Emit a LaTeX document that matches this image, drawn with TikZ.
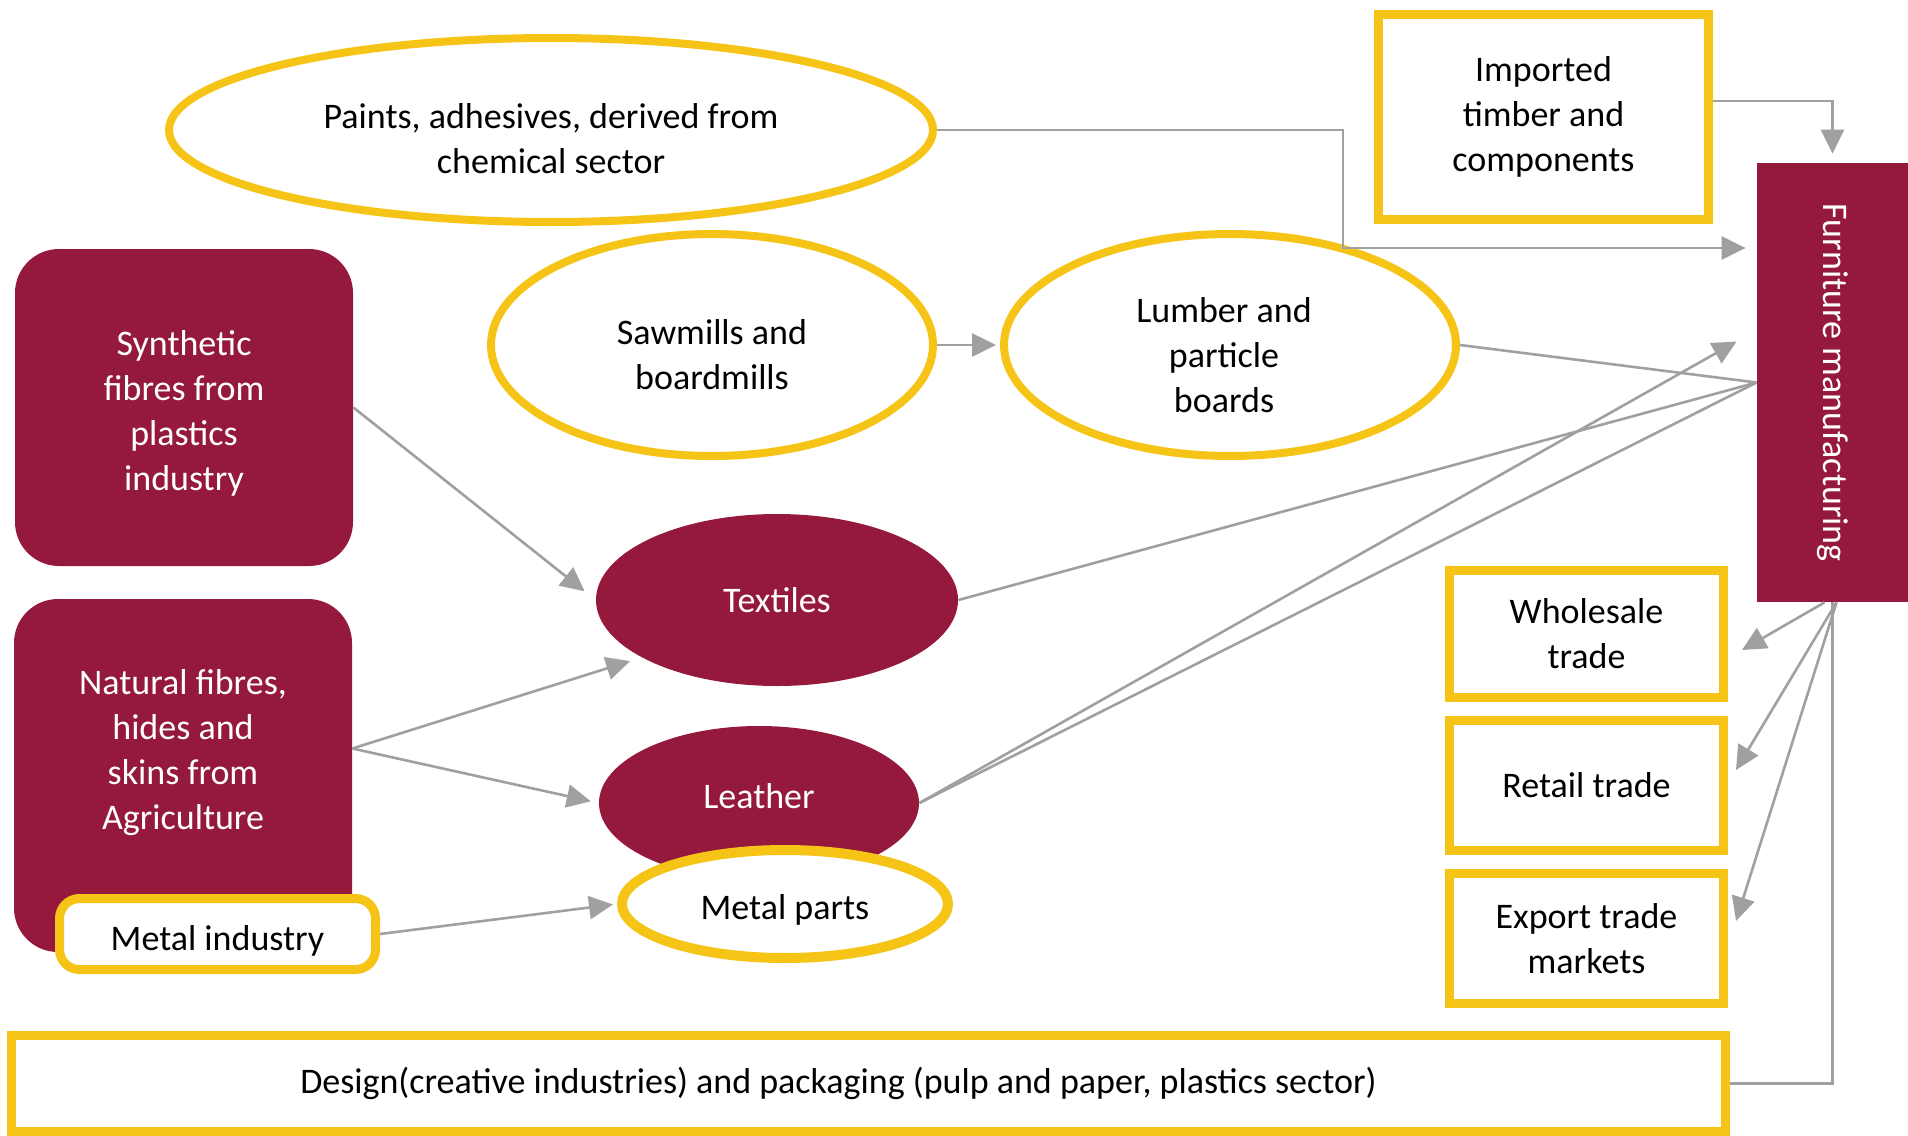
\documentclass[tikz,border=0pt]{standalone}
\usepackage{fontspec}
\setmainfont{Carlito}
\usetikzlibrary{arrows.meta, positioning, shapes.geometric}
\definecolor{wine}{HTML}{95183D}
\definecolor{gold}{HTML}{F6C417}
\definecolor{linegrey}{HTML}{A0A0A0}

\begin{document}
\begin{tikzpicture}[x=0.5pt, y=-0.5pt,
    every node/.style={font=\fontsize{18}{22.5}\selectfont, align=center},
    goldoval/.style={draw=gold, line width=4pt, ellipse, fill=white, inner sep=0pt},
    wineoval/.style={fill=wine, ellipse, text=white, inner sep=0pt},
    goldbox/.style={draw=gold, line width=4.5pt, rectangle, fill=white},
    winebox/.style={fill=wine, text=white, rounded corners=22pt},
    supply/.style={draw=linegrey, line width=1.3pt},
    supplyarrow/.style={supply, -{Triangle[length=12pt, width=11.5pt]}}]
        \useasboundingbox (0,0) rectangle (1908,1136);
        % raw material suppliers
        \node[winebox, minimum width=169pt, minimum height=158.5pt, label={[text=white, yshift=-3pt]center:Synthetic\\fibres from\\plastics\\industry}] (synth) at (184,407.5) {};
        \node[winebox, minimum width=169pt, minimum height=176.5pt, label={[text=white, yshift=11.5pt]center:Natural fibres,\\hides and\\skins from\\Agriculture}] (natural) at (183,775.5) {};
        \node[goldbox, rounded corners=10pt, minimum width=158pt, minimum height=35.5pt, label={[yshift=-3.5pt]center:Metal industry}] (metalind) at (217.5,934) {};
        
        % intermediate products
        \node[goldoval, minimum width=382pt, minimum height=92pt, label={[yshift=-4.5pt]center:Paints, adhesives, derived from\\chemical sector}] (paints) at (551,130) {};
        \node[goldoval, minimum width=221pt, minimum height=111pt, label={[yshift=-5pt]center:Sawmills and\\boardmills}] (sawmills) at (712,345) {};
        \node[goldoval, minimum width=226pt, minimum height=111pt, label={[xshift=-3pt, yshift=-5pt]center:Lumber and\\particle\\boards}] (lumber) at (1230,345) {};
        \node[wineoval, minimum width=181pt, minimum height=86pt] (textiles) at (777,600) {Textiles};
        \node[wineoval, minimum width=160pt, minimum height=77pt, label={[text=white, yshift=3.5pt]center:Leather}] (leather) at (759,803) {};
        \node[goldoval, line width=5pt, minimum width=163pt, minimum height=54pt, label={[yshift=-3pt]center:Metal parts}] (metalparts) at (785,904) {};
        
        % manufacturing and markets
        \node[goldbox, minimum width=165pt, minimum height=102.5pt] (imported) at (1543.5,117) {Imported\\timber and\\components};
        \node[fill=wine, minimum width=75.5pt, minimum height=219.5pt, label={[text=white, rotate=-90]center:Furniture manufacturing}] (furniture) at (1832.5,382.5) {};
        \node[goldbox, minimum width=137pt, minimum height=63.5pt] (wholesale) at (1586.5,634) {Wholesale\\trade};
        \node[goldbox, minimum width=137pt, minimum height=65pt, below=7pt of wholesale] (retail) {Retail trade};
        \node[goldbox, minimum width=137pt, minimum height=65pt, below=7pt of retail] (export) {Export trade\\markets};
        \node[goldbox, minimum width=857pt, minimum height=48pt, label={[xshift=-15pt]center:Design(creative industries) and packaging (pulp and paper, plastics sector)}] (design) at (868.5,1083.5) {};
        \coordinate (bend) at (1343,248);
        
        \draw[supplyarrow, shorten >=5.5pt] (paints.east) -| (bend) -- (bend -| furniture.west);
        \draw[supplyarrow, shorten >=4.5pt] ([yshift=8pt]imported.east) -| (furniture.north);
        \draw[supplyarrow, shorten >=2pt] (sawmills.east) -- (lumber.west);
        \draw[supply] (lumber.east) -- (furniture.west);
        \draw[supply] (textiles.east) -- (furniture.west);
        \draw[supply] (leather.east) -- (furniture.west);
        \draw[supplyarrow] (leather.east) -- ([xshift=-10pt, yshift=20.5pt]furniture.west);
        \draw[supplyarrow, shorten >=7pt] (synth.east) -- (textiles.west);
        \draw[supplyarrow, shorten >=6pt] ([yshift=13.5pt]natural.east) -- (textiles.203);
        \draw[supplyarrow, shorten >=4pt] ([yshift=13.5pt]natural.east) -- (leather.west);
        \draw[supplyarrow, shorten >=2pt] (metalind.east) -- (metalparts.west);
        \draw[supplyarrow] ([xshift=-4pt]furniture.south) -- ([xshift=7pt, yshift=-8pt]wholesale.east);
        \draw[supplyarrow] ([xshift=2pt]furniture.south) -- ([xshift=4pt, yshift=7.75pt]retail.east);
        \draw[supplyarrow] ([xshift=2pt]furniture.south) -- ([xshift=4pt, yshift=8.75pt]export.east);
        \draw[supply] (design.east) -| (furniture.south);
    \end{tikzpicture}
\end{document}
